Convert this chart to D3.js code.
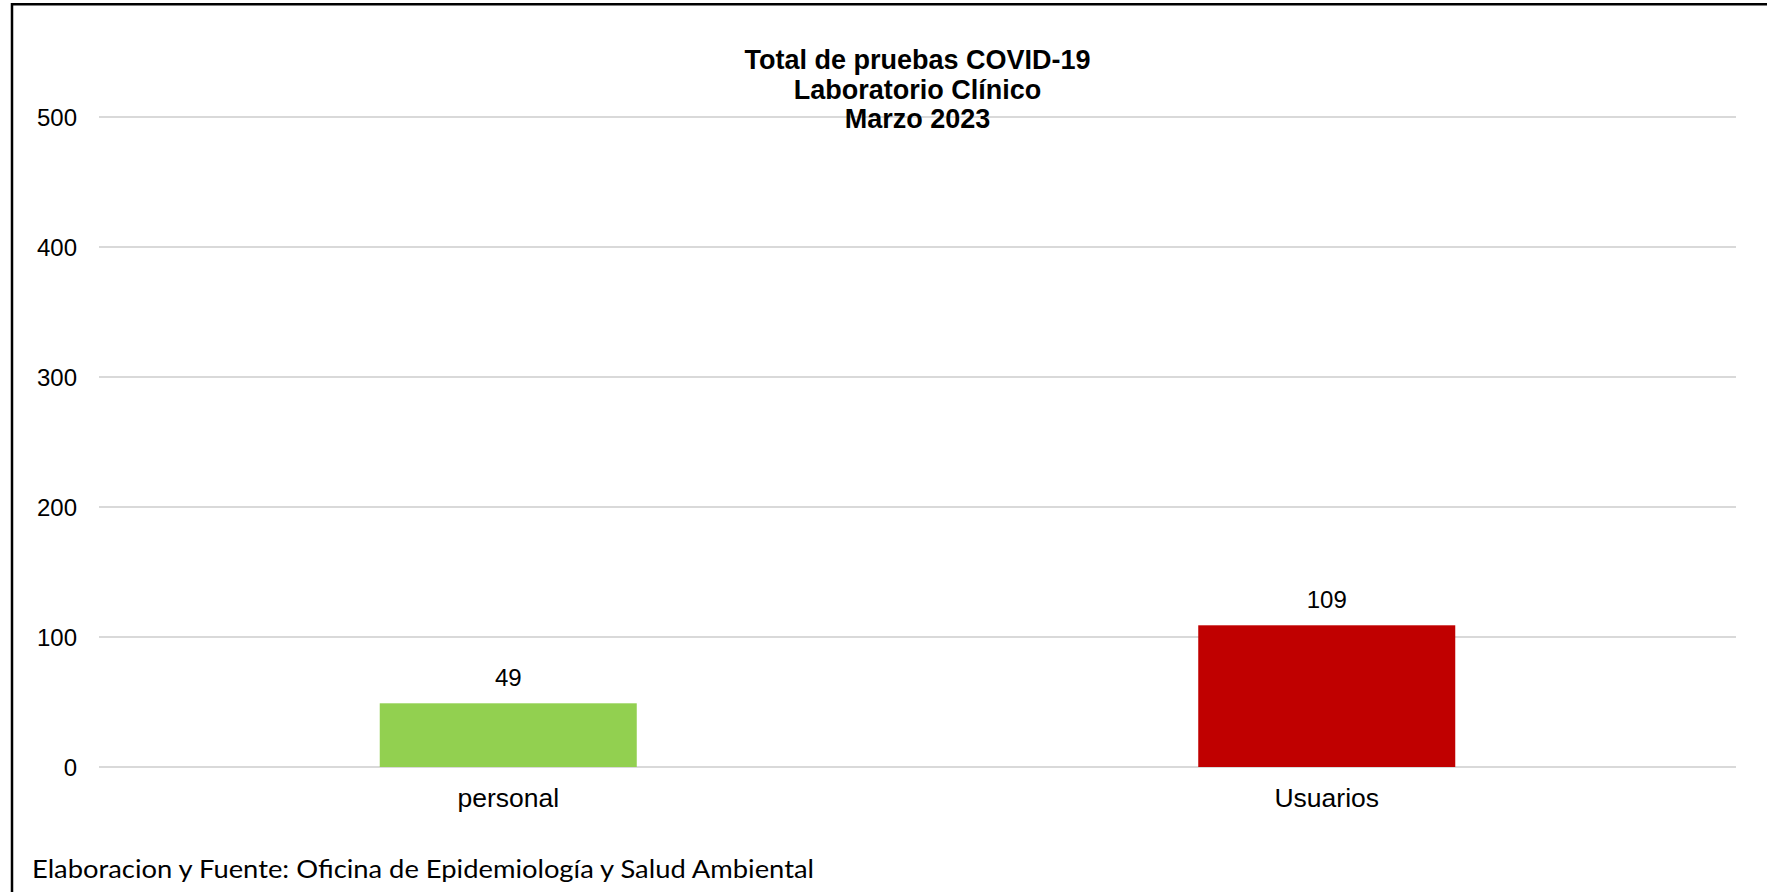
<!DOCTYPE html>
<html>
<head>
<meta charset="utf-8">
<script src="https://cdn.jsdelivr.net/npm/d3@7"></script>
<style>
  html, body { margin: 0; padding: 0; background: #fff; }
  svg { display: block; }
</style>
</head>
<body>
<svg id="chart" width="1767" height="892"></svg>
<script>
// ---- data ----
const categories = ["personal", "Usuarios"];
const values = [49, 109];
const barColors = ["#92d050", "#c00000"];
const yTicks = [0, 100, 200, 300, 400, 500];
const titleLines = ["Total de pruebas COVID-19", "Laboratorio Clínico", "Marzo 2023"];
const footerText = "Elaboracion y Fuente: Oficina de Epidemiología y Salud Ambiental";

// ---- layout ----
const W = 1767, H = 892;
const plot = { left: 99, right: 1736, top: 117, bottom: 767 };
const svg = d3.select("#chart");
const baseFont = "Arial, 'Liberation Sans', sans-serif";

svg.append("rect").attr("width", W).attr("height", H).attr("fill", "#fff");

const x = d3.scaleBand()
  .domain(categories)
  .range([plot.left, plot.right])
  .paddingInner(0.686)
  .paddingOuter(0.343);

const y = d3.scaleLinear()
  .domain([0, 500])
  .range([plot.bottom, plot.top]);

// gridlines
svg.append("g")
  .selectAll("line")
  .data(yTicks)
  .join("line")
  .attr("x1", plot.left)
  .attr("x2", plot.right)
  .attr("y1", d => y(d))
  .attr("y2", d => y(d))
  .attr("stroke", "#d9d9d9")
  .attr("stroke-width", 2);

// y axis labels
const yAxis = d3.axisLeft(y).tickValues(yTicks).tickSize(0).tickPadding(0);
const gy = svg.append("g").attr("transform", "translate(77,0)").call(yAxis);
gy.select(".domain").remove();
gy.selectAll("text")
  .attr("font-family", baseFont)
  .attr("font-size", 24)
  .attr("fill", "#000")
  .attr("dy", "0.35em");

// bars
svg.append("g")
  .selectAll("rect")
  .data(values)
  .join("rect")
  .attr("x", (d, i) => x(categories[i]))
  .attr("width", x.bandwidth())
  .attr("y", d => y(d))
  .attr("height", d => y(0) - y(d))
  .attr("fill", (d, i) => barColors[i]);

// value labels
svg.append("g")
  .selectAll("text")
  .data(values)
  .join("text")
  .attr("x", (d, i) => x(categories[i]) + x.bandwidth() / 2)
  .attr("y", d => y(d) - 17)
  .attr("text-anchor", "middle")
  .attr("font-family", baseFont)
  .attr("font-size", 24)
  .attr("fill", "#000")
  .text(d => d);

// x axis labels
const xAxis = d3.axisBottom(x).tickSize(0).tickPadding(0);
const gx = svg.append("g").attr("transform", "translate(0,807)").call(xAxis);
gx.select(".domain").remove();
gx.selectAll("text")
  .attr("font-family", baseFont)
  .attr("font-size", 26.5)
  .attr("fill", "#000")
  .attr("dy", 0);

// title
const cx = (plot.left + plot.right) / 2;
const titleBaselines = [69, 98.5, 128];
svg.append("g")
  .selectAll("text")
  .data(titleLines)
  .join("text")
  .attr("x", cx)
  .attr("y", (d, i) => titleBaselines[i])
  .attr("text-anchor", "middle")
  .attr("font-family", baseFont)
  .attr("font-weight", "bold")
  .attr("font-size", 27)
  .attr("fill", "#000")
  .text(d => d);

// footer
svg.append("text")
  .attr("x", 32)
  .attr("y", 878)
  .attr("font-family", "Lato, 'Open Sans', sans-serif")
  .attr("font-size", 25)
  .attr("fill", "#000")
  .attr("textLength", 782)
  .attr("lengthAdjust", "spacingAndGlyphs")
  .text(footerText);

// frame (left and top border)
svg.append("path")
  .attr("d", `M12,${H} V4.3 H${W}`)
  .attr("fill", "none")
  .attr("stroke", "#000")
  .attr("stroke-width", 2.5);
</script>
</body>
</html>
